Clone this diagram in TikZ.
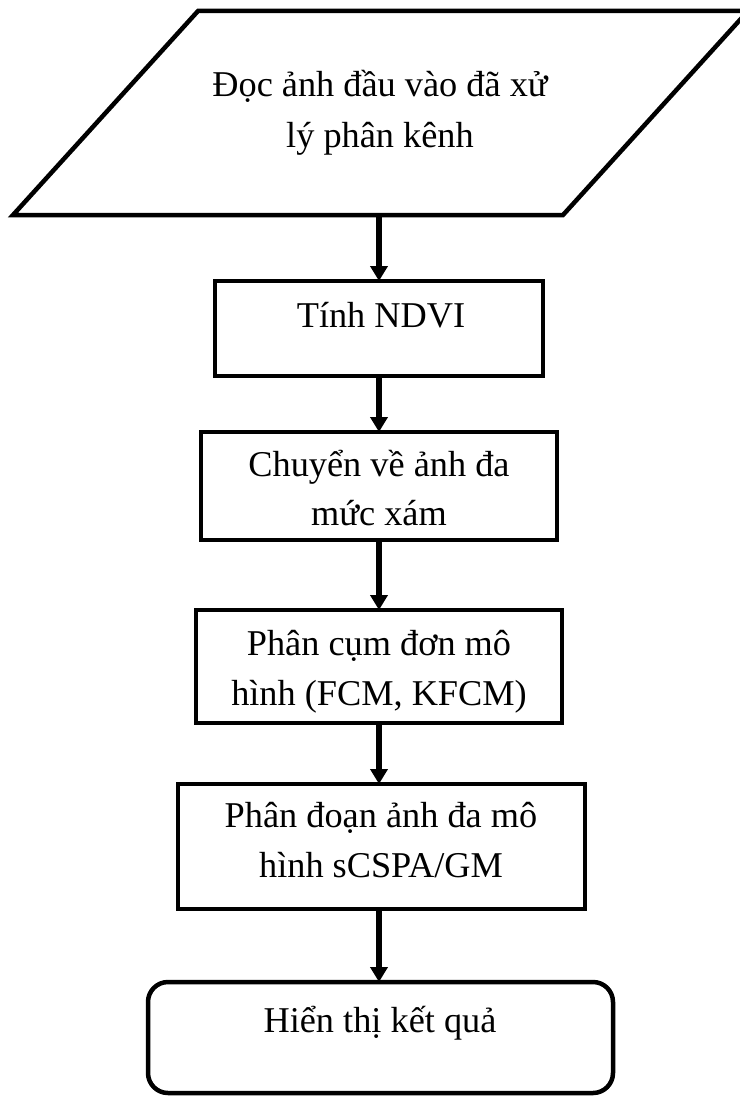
\documentclass[tikz,border=0pt]{standalone}
\usepackage{fontspec}
\setmainfont{Liberation Serif}
\usetikzlibrary{arrows.meta}
\begin{document}
\begin{tikzpicture}[x=1pt,y=-1pt,
  box/.style={draw=black,line width=4.5pt,rectangle,inner sep=0pt,outer sep=0pt},
  endbox/.style={box,rounded corners=20pt},
  label/.style={anchor=base,align=center,inner sep=0pt,font=\fontsize{36.3}{49}\selectfont},
  flow/.style={line width=5.5pt,-{Triangle[length=15pt,width=17pt]}}]
\useasboundingbox (0,0) rectangle (739,1097);

% input parallelogram
\draw[line width=4.5pt,line join=miter] (198,11) -- (748,11) -- (563,215) -- (13,215) -- cycle;
\coordinate (in) at (379,217);
\node[label] (tin) at (380,97) {Đọc ảnh đầu vào đã xử};
\node[label] (tin2) at (380,147) {lý phân kênh};

% processing steps
\node[box,minimum width=328pt,minimum height=95pt] (s1) at (379,328.5) {};
\node[label] (t1) at (381,327) {Tính NDVI};

\node[box,minimum width=356pt,minimum height=108pt] (s2) at (379,486) {};
\node[label] (t2a) at (379,476) {Chuyển về ảnh đa};
\node[label] (t2b) at (379,525) {mức xám};

\node[box,minimum width=366pt,minimum height=113pt] (s3) at (379,666.5) {};
\node[label] (t3a) at (379,655) {Phân cụm đơn mô};
\node[label] (t3b) at (379,705) {hình (FCM, KFCM)};

\node[box,minimum width=407pt,minimum height=125pt] (s4) at (381.5,846.5) {};
\node[label] (t4a) at (381,827) {Phân đoạn ảnh đa mô};
\node[label] (t4b) at (381,877) {hình sCSPA/GM};

% output
\node[endbox,minimum width=465pt,minimum height=111pt] (out) at (380.5,1037.5) {};
\node[label] (t5) at (380,1032) {Hiển thị kết quả};

% connectors
\draw[flow] (in) -- (s1.north -| in);
\draw[flow] (s1.south -| in) -- (s2.north -| in);
\draw[flow] (s2.south -| in) -- (s3.north -| in);
\draw[flow] (s3.south -| in) -- (s4.north -| in);
\draw[flow] (s4.south -| in) -- (out.north -| in);
\end{tikzpicture}
\end{document}
